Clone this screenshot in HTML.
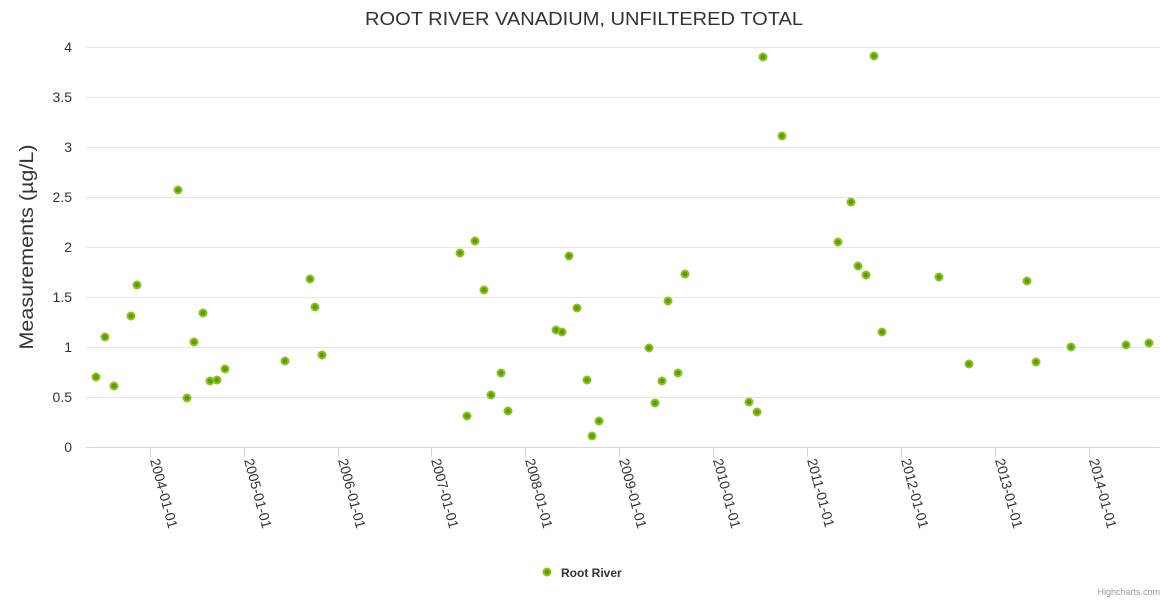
<!DOCTYPE html>
<html><head><meta charset="utf-8"><style>
body{margin:0;background:#fff;}
svg text{font-family:"Liberation Sans",sans-serif;}
</style></head><body>
<svg width="1170" height="600" xmlns="http://www.w3.org/2000/svg">
<rect width="1170" height="600" fill="#fff"/>
<text x="584" y="25" text-anchor="middle" font-size="18" fill="#333" textLength="438" lengthAdjust="spacingAndGlyphs">ROOT RIVER VANADIUM, UNFILTERED TOTAL</text>
<g stroke="#e6e6e6" stroke-width="1">
<line x1="86" x2="1160" y1="47.5" y2="47.5"/><line x1="86" x2="1160" y1="97.5" y2="97.5"/>
<line x1="86" x2="1160" y1="147.5" y2="147.5"/><line x1="86" x2="1160" y1="197.5" y2="197.5"/>
<line x1="86" x2="1160" y1="247.5" y2="247.5"/><line x1="86" x2="1160" y1="297.5" y2="297.5"/>
<line x1="86" x2="1160" y1="347.5" y2="347.5"/><line x1="86" x2="1160" y1="397.5" y2="397.5"/>
</g>
<line x1="86" x2="1160" y1="447.5" y2="447.5" stroke="#ccd6eb"/>
<g font-size="14" fill="#333" text-anchor="end">
<text x="72" y="52">4</text><text x="72" y="102">3.5</text><text x="72" y="152">3</text><text x="72" y="202">2.5</text>
<text x="72" y="252">2</text><text x="72" y="302">1.5</text><text x="72" y="352">1</text><text x="72" y="402">0.5</text><text x="72" y="452">0</text>
</g>
<text transform="translate(33,247) rotate(-90)" text-anchor="middle" font-size="19" fill="#333" textLength="205" lengthAdjust="spacingAndGlyphs">Measurements (µg/L)</text>
<g stroke="#ccd6eb">
<line x1="150.5" x2="150.5" y1="447" y2="457"/><line x1="244.5" x2="244.5" y1="447" y2="457"/>
<line x1="338.5" x2="338.5" y1="447" y2="457"/><line x1="431.5" x2="431.5" y1="447" y2="457"/>
<line x1="525.5" x2="525.5" y1="447" y2="457"/><line x1="619.5" x2="619.5" y1="447" y2="457"/>
<line x1="713.5" x2="713.5" y1="447" y2="457"/><line x1="807.5" x2="807.5" y1="447" y2="457"/>
<line x1="901.5" x2="901.5" y1="447" y2="457"/><line x1="995.5" x2="995.5" y1="447" y2="457"/>
<line x1="1089.5" x2="1089.5" y1="447" y2="457"/>
</g>
<g font-size="14" fill="#333">
<text transform="translate(150,460) rotate(75)">2004-01-01</text>
<text transform="translate(244,460) rotate(75)">2005-01-01</text>
<text transform="translate(338,460) rotate(75)">2006-01-01</text>
<text transform="translate(431,460) rotate(75)">2007-01-01</text>
<text transform="translate(525,460) rotate(75)">2008-01-01</text>
<text transform="translate(619,460) rotate(75)">2009-01-01</text>
<text transform="translate(713,460) rotate(75)">2010-01-01</text>
<text transform="translate(807,460) rotate(75)">2011-01-01</text>
<text transform="translate(901,460) rotate(75)">2012-01-01</text>
<text transform="translate(995,460) rotate(75)">2013-01-01</text>
<text transform="translate(1089,460) rotate(75)">2014-01-01</text>
</g>
<g fill="#5a9e00" stroke="#8cc21e" stroke-width="2">
<circle cx="96" cy="377" r="3.5"/><circle cx="105" cy="337" r="3.5"/><circle cx="114" cy="386" r="3.5"/><circle cx="131" cy="316" r="3.5"/><circle cx="137" cy="285" r="3.5"/><circle cx="178" cy="190" r="3.5"/><circle cx="187" cy="398" r="3.5"/><circle cx="194" cy="342" r="3.5"/><circle cx="203" cy="313" r="3.5"/><circle cx="210" cy="381" r="3.5"/><circle cx="217" cy="380" r="3.5"/><circle cx="225" cy="369" r="3.5"/><circle cx="285" cy="361" r="3.5"/><circle cx="310" cy="279" r="3.5"/><circle cx="315" cy="307" r="3.5"/><circle cx="322" cy="355" r="3.5"/><circle cx="460" cy="253" r="3.5"/><circle cx="467" cy="416" r="3.5"/><circle cx="475" cy="241" r="3.5"/><circle cx="484" cy="290" r="3.5"/><circle cx="491" cy="395" r="3.5"/><circle cx="501" cy="373" r="3.5"/><circle cx="508" cy="411" r="3.5"/><circle cx="556" cy="330" r="3.5"/><circle cx="562" cy="332" r="3.5"/><circle cx="569" cy="256" r="3.5"/><circle cx="577" cy="308" r="3.5"/><circle cx="587" cy="380" r="3.5"/><circle cx="592" cy="436" r="3.5"/><circle cx="599" cy="421" r="3.5"/><circle cx="649" cy="348" r="3.5"/><circle cx="655" cy="403" r="3.5"/><circle cx="662" cy="381" r="3.5"/><circle cx="668" cy="301" r="3.5"/><circle cx="678" cy="373" r="3.5"/><circle cx="685" cy="274" r="3.5"/><circle cx="749" cy="402" r="3.5"/><circle cx="757" cy="412" r="3.5"/><circle cx="763" cy="57" r="3.5"/><circle cx="782" cy="136" r="3.5"/><circle cx="838" cy="242" r="3.5"/><circle cx="851" cy="202" r="3.5"/><circle cx="858" cy="266" r="3.5"/><circle cx="866" cy="275" r="3.5"/><circle cx="882" cy="332" r="3.5"/><circle cx="874" cy="56" r="3.5"/><circle cx="939" cy="277" r="3.5"/><circle cx="969" cy="364" r="3.5"/><circle cx="1027" cy="281" r="3.5"/><circle cx="1036" cy="362" r="3.5"/><circle cx="1071" cy="347" r="3.5"/><circle cx="1126" cy="345" r="3.5"/><circle cx="1149" cy="343" r="3.5"/>
<circle cx="547" cy="572" r="3.5"/>
</g>
<text x="561" y="577" font-size="12" font-weight="bold" fill="#333">Root River</text>
<text x="1160" y="595" text-anchor="end" font-size="9" fill="#999">Highcharts.com</text>
</svg>
</body></html>
